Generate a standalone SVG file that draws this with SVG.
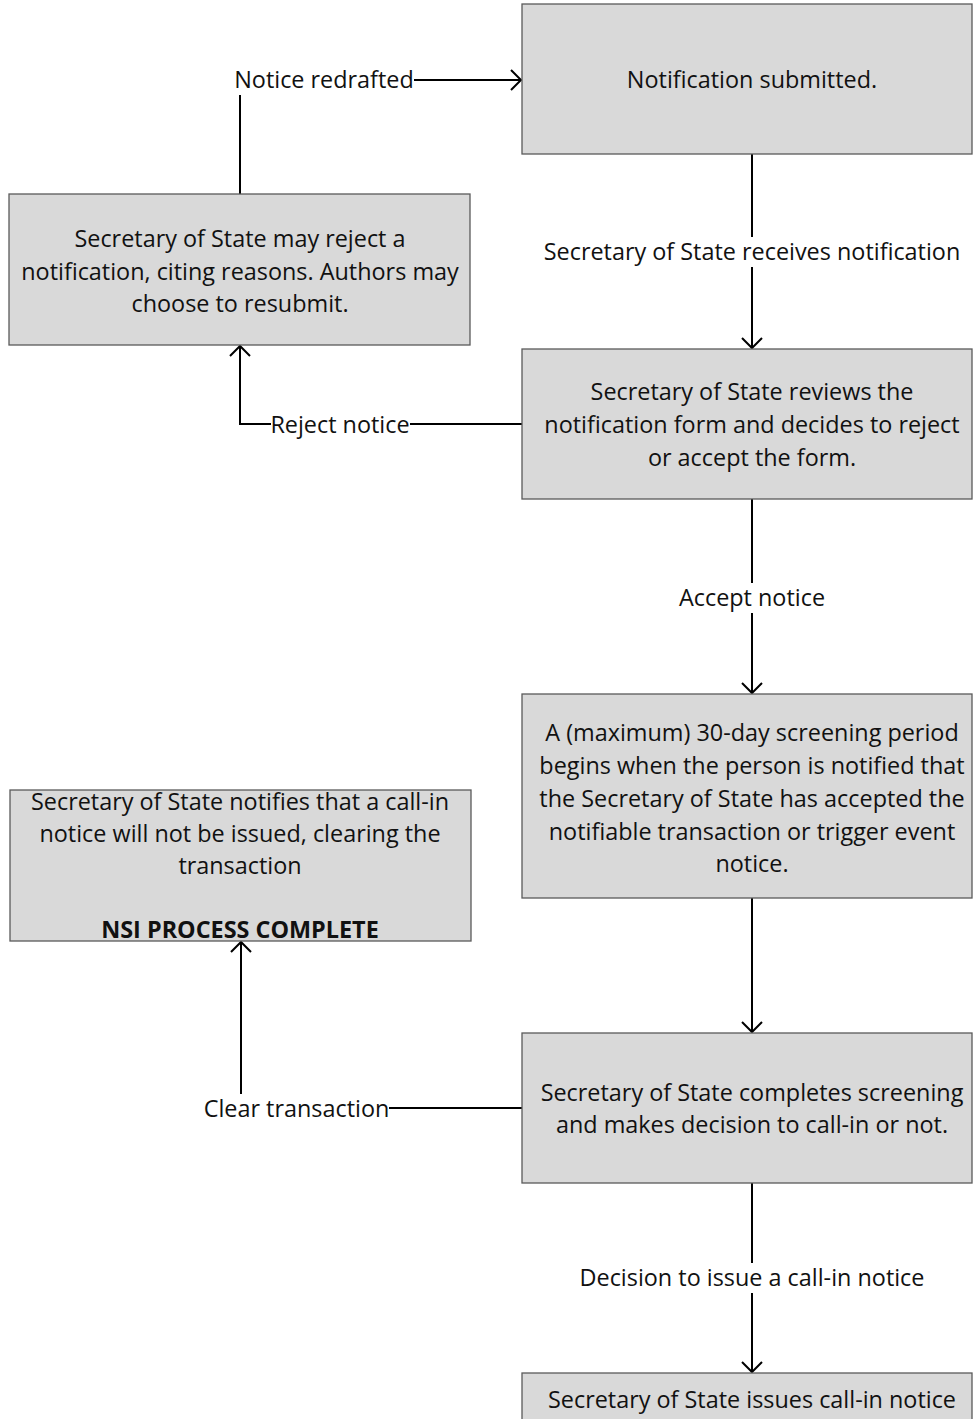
<svg xmlns="http://www.w3.org/2000/svg" width="973" height="1419" viewBox="0 0 973 1419">
<style>
.box{fill:#d9d9d9;stroke:#5a5a5a;stroke-width:1.3}
.t{font-family:"Open Sans","Liberation Sans",sans-serif;font-size:23.4px;fill:#111;text-anchor:middle}
.b{font-weight:bold}
.c{fill:none;stroke:#000;stroke-width:2}
.bg{fill:#fff}
</style>
<defs>
<marker id="ah" markerUnits="userSpaceOnUse" markerWidth="14" markerHeight="22" refX="11" refY="11" orient="auto" viewBox="0 0 14 22">
<path d="M1,1 L11,11 L1,21" fill="none" stroke="#000" stroke-width="2"/>
</marker>
</defs>
<rect width="973" height="1419" fill="#fff"/>
<g id="connectors">
<path class="c" d="M752,154 V348" marker-end="url(#ah)"/>
<path class="c" d="M752,499 V693" marker-end="url(#ah)"/>
<path class="c" d="M752,898 V1032" marker-end="url(#ah)"/>
<path class="c" d="M752,1183 V1372" marker-end="url(#ah)"/>
<path class="c" d="M522,424 H240 V346" marker-end="url(#ah)"/>
<path class="c" d="M240,194 V80 H521" marker-end="url(#ah)"/>
<path class="c" d="M522,1108 H241 V942" marker-end="url(#ah)"/>
<rect class="bg" x="543" y="237" width="418" height="30"/>
<text class="t" x="752" y="260">Secretary of State receives notification</text>
<rect class="bg" x="679" y="583" width="146" height="30"/>
<text class="t" x="752" y="606">Accept notice</text>
<rect class="bg" x="579" y="1263" width="346" height="30"/>
<text class="t" x="752" y="1286">Decision to issue a call-in notice</text>
<rect class="bg" x="271" y="410" width="139" height="30"/>
<text class="t" x="340" y="433">Reject notice</text>
<rect class="bg" x="234" y="65" width="180" height="30"/>
<text class="t" x="324" y="88">Notice redrafted</text>
<rect class="bg" x="204" y="1094" width="185" height="30"/>
<text class="t" x="296.5" y="1117">Clear transaction</text>
</g>
<g id="n1">
<rect class="box" x="522" y="4" width="450" height="150"/>
<text class="t" x="752" y="88">Notification submitted.</text>
</g>
<g id="n2">
<rect class="box" x="9" y="194" width="461" height="151"/>
<text class="t" x="240" y="247">Secretary of State may reject a</text>
<text class="t" x="240" y="280">notification, citing reasons. Authors may</text>
<text class="t" x="240" y="312">choose to resubmit.</text>
</g>
<g id="n3">
<rect class="box" x="522" y="349" width="450" height="150"/>
<text class="t" x="752" y="400">Secretary of State reviews the</text>
<text class="t" x="752" y="433">notification form and decides to reject</text>
<text class="t" x="752" y="466">or accept the form.</text>
</g>
<g id="n4">
<rect class="box" x="522" y="694" width="450" height="204"/>
<text class="t" x="752" y="741">A (maximum) 30-day screening period</text>
<text class="t" x="752" y="774">begins when the person is notified that</text>
<text class="t" x="752" y="807">the Secretary of State has accepted the</text>
<text class="t" x="752" y="840">notifiable transaction or trigger event</text>
<text class="t" x="752" y="872">notice.</text>
</g>
<g id="n5">
<rect class="box" x="10" y="790" width="461" height="151"/>
<text class="t" x="240" y="810">Secretary of State notifies that a call-in</text>
<text class="t" x="240" y="842">notice will not be issued, clearing the</text>
<text class="t" x="240" y="874">transaction</text>
<text class="t b" x="240" y="938">NSI PROCESS COMPLETE</text>
</g>
<g id="n6">
<rect class="box" x="522" y="1033" width="450" height="150"/>
<text class="t" x="752" y="1101">Secretary of State completes screening</text>
<text class="t" x="752" y="1133">and makes decision to call-in or not.</text>
</g>
<g id="n7">
<rect class="box" x="522" y="1373" width="450" height="60"/>
<text class="t" x="752" y="1408">Secretary of State issues call-in notice</text>
</g>
</svg>
